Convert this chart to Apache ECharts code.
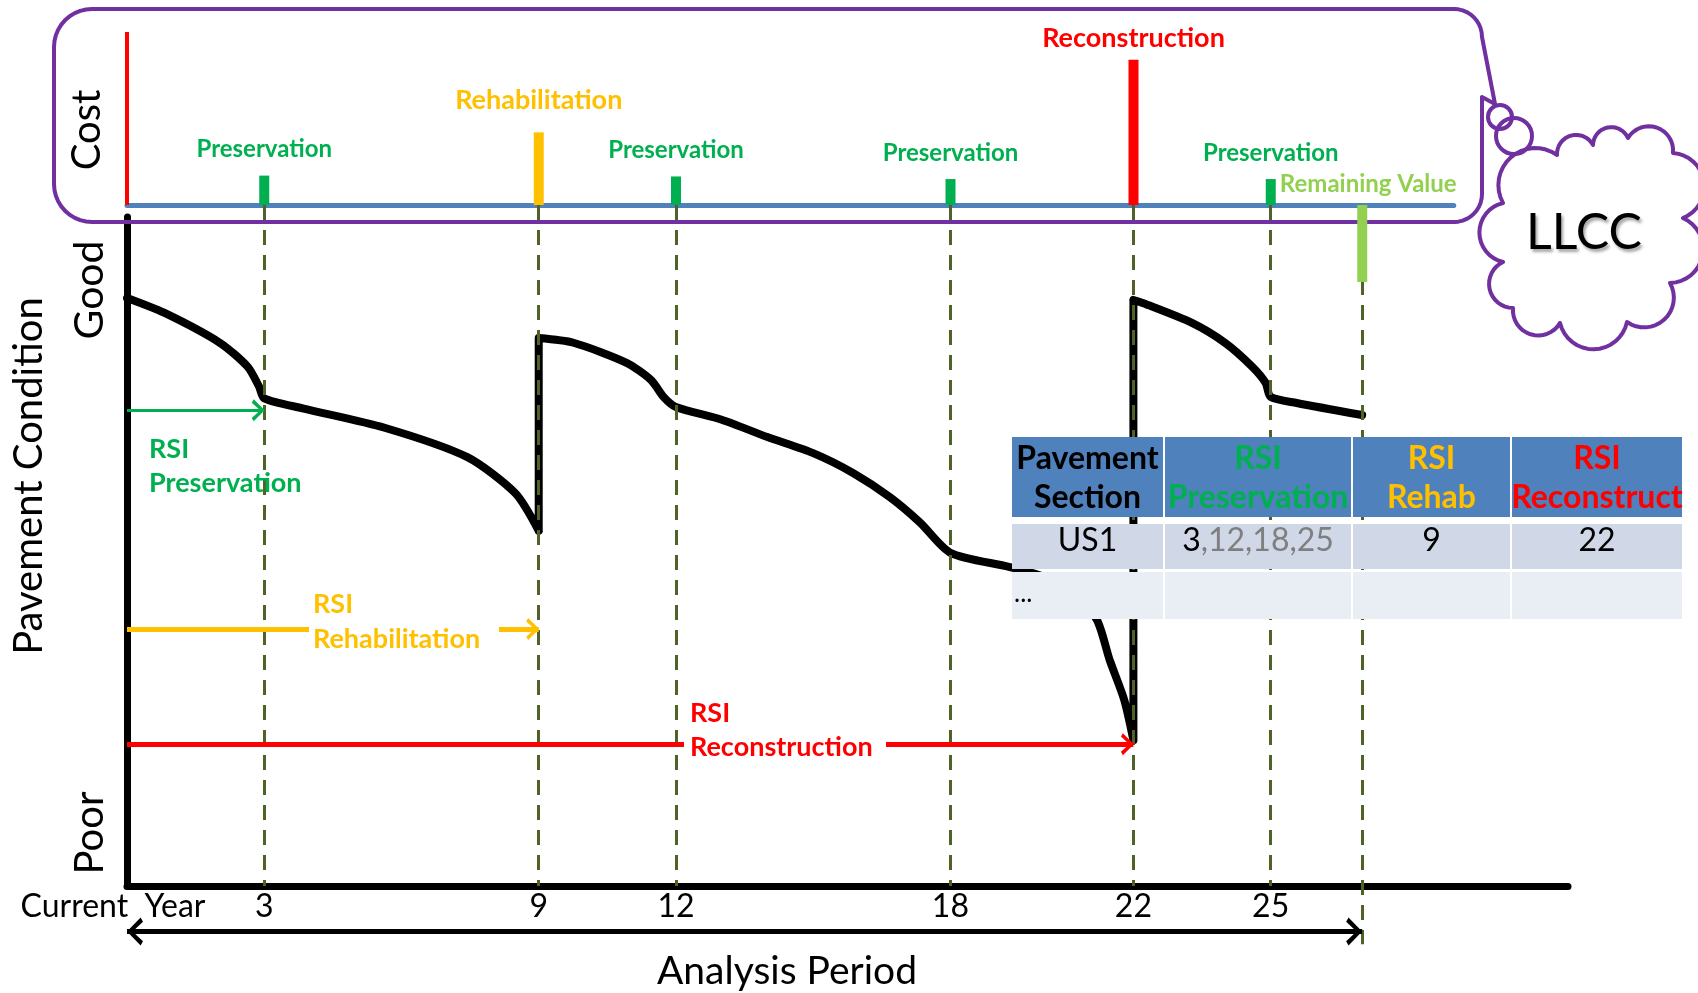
<!DOCTYPE html>
<html>
<head>
<meta charset="utf-8">
<title>Pavement life-cycle cost timeline</title>
<script src="https://cdn.jsdelivr.net/npm/echarts@6/dist/echarts.min.js"></script>
<style>
  html, body { margin: 0; padding: 0; background: #ffffff; }
  #chart { width: 1698px; height: 993px; }
</style>
</head>
<body>
<div id="chart"></div>
<script>
// ---- Treatments over the analysis period: year, relative cost, type ----
const costYears  = [3, 9, 12, 18, 22, 25, 27];
const costValues = [17, 42, 16.5, 15, 84, 15, -44.5];
const costKinds  = ['Preservation', 'Rehabilitation', 'Preservation', 'Preservation',
                    'Reconstruction', 'Preservation', 'Remaining Value'];

// ---- Pavement condition (condition index 0 = poor .. 100 = good), one array pair per life cycle ----
// cycle 1: current year until rehabilitation
const cycle1Years  = [0, 0.81, 2.03, 2.64, 2.89, 3, 3.84, 5.63, 7.44, 8.49, 9];
const cycle1Values = [87.9, 85.7, 81.2, 77.6, 74.6, 72.9, 71.4, 68.5, 64.1, 58.7, 53.1];
// cycle 2: rehabilitation until reconstruction
const cycle2Years  = [9, 9.76, 10.92, 11.46, 11.73, 12, 13, 14, 15, 15.88, 16.68, 17.34, 18,
                      19.28, 20.0, 20.7, 21.2, 21.48, 21.8, 22];
const cycle2Values = [81.9, 81.2, 78.2, 75.6, 73.1, 71.6, 69.7, 67.1, 64.7, 61.7, 58.1, 54.3, 49.8,
                      47.7, 46.3, 43.5, 39.8, 33.8, 27.8, 21.8];
// cycle 3: reconstruction until the end of the analysis period
const cycle3Years  = [22, 22.22, 23.27, 24, 24.6, 24.89, 25, 25.57, 27];
const cycle3Values = [87.6, 87.1, 84.2, 81.2, 77.6, 75.2, 73.1, 72.2, 70.4];

// ---- Remaining service interval spans (from current year) ----
const rsiNames    = ['RSI\nPreservation', 'RSI\nRehabilitation', 'RSI\nReconstruction'];
const rsiEndYears = [3, 9, 22];
const rsiLevels   = [71.1, 38.4, 21.2];

// ---- Analysis period ----
const analysisPeriod = [0, 27];
const analysisLevel  = -6.8;

// ---- Year axis labels ----
const tickYears  = [0, 3, 9, 12, 18, 22, 25];
const tickLabels = ['Current  Year', '3', '9', '12', '18', '22', '25'];

// ---- Summary table ----
const tableHeader = [['Pavement', 'Section'], ['RSI', 'Preservation'], ['RSI', 'Rehab'], ['RSI', 'Reconstruct']];
const tableRows   = [['US1', '3,12,18,25', '9', '22'], ['...', '', '', '']];

// ---------------------------------------------------------------------------
const FONT = 'Lato, "Liberation Sans", sans-serif';
const PURPLE = '#7030A0';
const kindColor = {
  'Preservation': '#00B050',
  'Rehabilitation': '#FFC000',
  'Reconstruction': '#FF0000',
  'Remaining Value': '#92D050'
};
const kindLabel = {
  'Preservation':   { fontSize: 24, distance: 14, offset: [0, 0] },
  'Rehabilitation': { fontSize: 27, distance: 19, offset: [0, 0] },
  'Reconstruction': { fontSize: 27, distance: 8,  offset: [0, 0] },
  'Remaining Value':{ fontSize: 24, distance: 9,  offset: [6, 0] }
};
const rsiColors = ['#00B050', '#FFC000', '#FF0000'];
const rsiWidths = [3, 5, 5];
const CHEVRON = 'path://M5,0 L10,8.5 L8.5,10 L5,3.5 L1.5,10 L0,8.5 Z';

const costData = costYears.map((y, i) => {
  const k = costKinds[i];
  const l = kindLabel[k];
  return {
    value: [y, costValues[i]],
    name: k,
    itemStyle: { color: kindColor[k] },
    label: {
      show: true, position: 'top', formatter: k,
      color: kindColor[k], fontSize: l.fontSize, fontWeight: 'bold', fontFamily: FONT,
      distance: l.distance, offset: l.offset
    }
  };
});

// condition line: smooth wear curves, joined by straight vertical jumps at each major treatment
const pairs = (xs, ys) => xs.map((x, i) => [x, ys[i]]);
const cycles = [pairs(cycle1Years, cycle1Values), pairs(cycle2Years, cycle2Values), pairs(cycle3Years, cycle3Values)];
const BREAK = [null, null];
let conditionData = [];
cycles.forEach((cyc, i) => {
  if (i > 0) {
    const prevEnd = cycles[i - 1][cycles[i - 1].length - 1];
    conditionData.push(BREAK, prevEnd, cyc[0], BREAK);
  }
  conditionData = conditionData.concat(cyc);
});

// dashed guides from each treatment down to the year axis
const guideLines = costYears.map(y => [
  { coord: [y, 101.8] },
  { coord: [y, y === analysisPeriod[1] ? -8.7 : 0] }
]);

// RSI arrows
const rsiArrows = rsiEndYears.map((ye, i) => {
  const ls = { color: rsiColors[i], width: rsiWidths[i], type: 'solid' };
  return [
    { coord: [0, rsiLevels[i]], symbol: 'none', lineStyle: ls },
    { coord: [ye, rsiLevels[i]], symbol: CHEVRON, symbolSize: [22, 13], symbolOffset: [0, 6], lineStyle: ls }
  ];
});

// analysis period double arrow
const apStyle = { color: '#000', width: 5, type: 'solid' };
const analysisArrow = [
  { coord: [analysisPeriod[0], analysisLevel], symbol: CHEVRON, symbolSize: [28, 16], symbolOffset: [0, 8], lineStyle: apStyle },
  { coord: [analysisPeriod[1], analysisLevel], symbol: CHEVRON, symbolSize: [28, 16], symbolOffset: [0, 8], lineStyle: apStyle }
];

// ---- outline helpers (sampled into point lists) ----
function arcPoints(a, b, bulge, steps) {
  // circular arc from a to b bulging to the left of travel (outward for clockwise loops)
  const dx = b[0] - a[0], dy = b[1] - a[1];
  const c = Math.hypot(dx, dy);
  const h = bulge * c;
  const r = (c * c / 4 + h * h) / (2 * h);
  const nx = dy / c, ny = -dx / c;
  const mx = (a[0] + b[0]) / 2, my = (a[1] + b[1]) / 2;
  const cx = mx - nx * (r - h), cy = my - ny * (r - h);
  const ta = Math.atan2(a[1] - cy, a[0] - cx);
  const tb = Math.atan2(b[1] - cy, b[0] - cx);
  let d = tb - ta;
  while (d > Math.PI) d -= 2 * Math.PI;
  while (d <= -Math.PI) d += 2 * Math.PI;
  const out = [];
  for (let i = 0; i <= steps; i++) {
    const t = ta + d * i / steps;
    out.push([cx + r * Math.cos(t), cy + r * Math.sin(t)]);
  }
  return out;
}
function cornerPoints(cx, cy, r, t0, t1, steps) {
  const out = [];
  for (let i = 0; i <= steps; i++) {
    const t = t0 + (t1 - t0) * i / steps;
    out.push([cx + r * Math.cos(t), cy + r * Math.sin(t)]);
  }
  return out;
}

const cloudPts = [[1503, 203], [1557, 155], [1593, 145], [1628, 138], [1673, 153], [1683, 218],
                  [1670, 283], [1627, 322], [1560, 323], [1513, 308], [1503, 262]];
let cloudOutline = [];
cloudPts.forEach((p, i) => {
  const seg = arcPoints(p, cloudPts[(i + 1) % cloudPts.length], 0.4, 16);
  cloudOutline = cloudOutline.concat(seg.slice(0, -1));
});

// rounded callout box with a tail leading to the cloud
const L = 54, T = 9, R = 1482, B = 222, rl = 38, rr = 28;
const H = Math.PI;
let callout = [];
callout = callout.concat(cornerPoints(L + rl, T + rl, rl, H, 1.5 * H, 10));          // top-left
callout = callout.concat(cornerPoints(R - rr, T + rr, rr, 1.5 * H, 2 * H, 10));      // top-right
callout.push([1495, 104], [1482, 97]);                                                 // tail
callout = callout.concat(cornerPoints(R - rr, B - rr, rr, 0, 0.5 * H, 10));          // bottom-right
callout = callout.concat(cornerPoints(L + rl, B - rl, rl, 0.5 * H, H, 10));          // bottom-left

const graphics = [
  { type: 'polygon', z: 1, silent: true, shape: { points: callout },
    style: { fill: 'none', stroke: PURPLE, lineWidth: 4, lineJoin: 'round' } },
  { type: 'polygon', z: 20, silent: true, shape: { points: cloudOutline },
    style: { fill: '#fff', stroke: PURPLE, lineWidth: 4, lineJoin: 'round' } },
  { type: 'circle', z: 21, silent: true, shape: { cx: 1500, cy: 117, r: 12 },
    style: { fill: 'none', stroke: PURPLE, lineWidth: 4 } },
  { type: 'circle', z: 21, silent: true, shape: { cx: 1514, cy: 136, r: 18 },
    style: { fill: 'none', stroke: PURPLE, lineWidth: 4 } },
  { type: 'text', z: 22, silent: true, x: 1584, y: 233,
    style: { text: 'LLCC', align: 'center', verticalAlign: 'middle', fontSize: 50, fontFamily: FONT,
             fill: '#000', textShadowColor: 'rgba(0,0,0,0.35)', textShadowBlur: 3,
             textShadowOffsetX: 2, textShadowOffsetY: 3 } },

  // axis captions
  { type: 'text', z: 10, silent: true, x: 87, y: 130, rotation: Math.PI / 2,
    style: { text: 'Cost', align: 'center', verticalAlign: 'middle', fontSize: 40, fontFamily: FONT, fill: '#000' } },
  { type: 'text', z: 10, silent: true, x: 90, y: 290, rotation: Math.PI / 2,
    style: { text: 'Good', align: 'center', verticalAlign: 'middle', fontSize: 41, fontFamily: FONT, fill: '#000' } },
  { type: 'text', z: 10, silent: true, x: 90, y: 833, rotation: Math.PI / 2,
    style: { text: 'Poor', align: 'center', verticalAlign: 'middle', fontSize: 40, fontFamily: FONT, fill: '#000' } },
  { type: 'text', z: 10, silent: true, x: 29, y: 476, rotation: Math.PI / 2,
    style: { text: 'Pavement Condition', align: 'center', verticalAlign: 'middle', fontSize: 40, fontFamily: FONT, fill: '#000' } },
  { type: 'text', z: 10, silent: true, x: 787, y: 971,
    style: { text: 'Analysis Period', align: 'center', verticalAlign: 'middle', fontSize: 39, fontFamily: FONT, fill: '#000' } },

  // RSI captions
  { type: 'text', z: 10, silent: true, x: 149, y: 432,
    style: { text: rsiNames[0], align: 'left', verticalAlign: 'top', fontSize: 27, fontWeight: 'bold',
             fontFamily: FONT, lineHeight: 34, fill: rsiColors[0] } },
  { type: 'rect', z: 9, silent: true, shape: { x: 309, y: 619, width: 190, height: 20 }, style: { fill: '#fff' } },
  { type: 'text', z: 10, silent: true, x: 313, y: 587,
    style: { text: rsiNames[1], align: 'left', verticalAlign: 'top', fontSize: 27, fontWeight: 'bold',
             fontFamily: FONT, lineHeight: 35, fill: rsiColors[1] } },
  { type: 'rect', z: 9, silent: true, shape: { x: 684, y: 734, width: 202, height: 20 }, style: { fill: '#fff' } },
  { type: 'text', z: 10, silent: true, x: 690, y: 696,
    style: { text: rsiNames[2], align: 'left', verticalAlign: 'top', fontSize: 27, fontWeight: 'bold',
             fontFamily: FONT, lineHeight: 34, fill: rsiColors[2] } }
];

// ---- summary table ----
const colEdges = [1011, 1164, 1352, 1511, 1683];
const rowBands = [[437, 517], [524, 569], [572, 619]];
const rowFills = ['#4F81BD', '#D0D8E8', '#E9EDF4'];
const headColors = ['#000000', '#00B050', '#FFC000', '#FF0000'];
rowBands.forEach((band, r) => {
  for (let c = 0; c < colEdges.length - 1; c++) {
    graphics.push({ type: 'rect', z: 30, silent: true,
      shape: { x: colEdges[c] + 1, y: band[0], width: colEdges[c + 1] - colEdges[c] - 2, height: band[1] - band[0] },
      style: { fill: rowFills[r] } });
  }
});
tableHeader.forEach((lines, c) => {
  const cx = (colEdges[c] + colEdges[c + 1]) / 2;
  lines.forEach((t, j) => {
    graphics.push({ type: 'text', z: 31, silent: true, x: cx, y: j === 0 ? 459 : 498,
      style: { text: t, align: 'center', verticalAlign: 'middle', fontSize: 32, fontWeight: 'bold',
               fontFamily: FONT, fill: headColors[c] } });
  });
});
tableRows.forEach((row, r) => {
  row.forEach((t, c) => {
    if (!t) return;
    if (r === 0) {
      const cx = (colEdges[c] + colEdges[c + 1]) / 2;
      const style = { text: t, align: 'center', verticalAlign: 'middle', fontSize: 32,
                      fontFamily: FONT, fill: '#000' };
      if (c === 1) {
        const parts = t.split(',');
        style.text = '{a|' + parts[0] + '}{b|,' + parts.slice(1).join(',') + '}';
        style.rich = {
          a: { fontSize: 32, fontFamily: FONT, fill: '#000000' },
          b: { fontSize: 32, fontFamily: FONT, fill: '#7F7F7F' }
        };
      }
      graphics.push({ type: 'text', z: 31, silent: true, x: cx, y: 541, style: style });
    } else {
      graphics.push({ type: 'text', z: 31, silent: true, x: colEdges[0] + 3, y: 594,
        style: { text: t, align: 'left', verticalAlign: 'middle', fontSize: 26, fontFamily: FONT, fill: '#000' } });
    }
  });
});

// ---------------------------------------------------------------------------
// condition scale: 6.69 px per index point, 0 on the year axis, 100 at the top of the y axis
const hiddenAxis = { show: false };
const chart = echarts.init(document.getElementById('chart'), null, { renderer: 'canvas' });
chart.setOption({
  animation: false,
  backgroundColor: '#ffffff',
  grid: [
    { left: 127, top: 217, width: 1441, height: 669, outerBoundsMode: 'none' },      // visible condition axes
    { left: 127, top: 32, width: 1326.75, height: 259.5, outerBoundsMode: 'none' },  // cost
    { left: 127, top: 203.62, width: 1441, height: 749.28, outerBoundsMode: 'none' } // condition data (-10..102)
  ],
  xAxis: [
    {
      type: 'value', gridIndex: 0, min: 0, max: 31.5, interval: 1,
      axisLine: { show: true, onZero: false, lineStyle: { color: '#000', width: 7 } },
      axisTick: { show: false }, splitLine: { show: false },
      axisLabel: {
        show: true, margin: 5, color: '#000', fontSize: 32, fontFamily: FONT,
        showMinLabel: true, showMaxLabel: true, hideOverlap: false,
        formatter: v => {
          const i = tickYears.indexOf(v);
          if (i < 0) return '';
          return i === 0 ? '{cy|' + tickLabels[0] + '}' : tickLabels[i];
        },
        rich: { cy: { fontSize: 32, fontFamily: FONT, color: '#000', padding: [0, 28, 0, 0] } }
      }
    },
    {
      type: 'value', gridIndex: 1, min: 0, max: 29,
      axisLine: { show: true, onZero: true, lineStyle: { color: '#4F81BD', width: 5 } },
      axisTick: { show: false }, axisLabel: { show: false }, splitLine: { show: false }
    },
    { type: 'value', gridIndex: 2, min: 0, max: 31.5, ...hiddenAxis }
  ],
  yAxis: [
    {
      type: 'value', gridIndex: 0, min: 0, max: 100,
      axisLine: { show: true, lineStyle: { color: '#000', width: 7 } },
      axisTick: { show: false }, axisLabel: { show: false }, splitLine: { show: false }
    },
    {
      type: 'value', gridIndex: 1, min: -50, max: 100,
      axisLine: { show: false }, axisTick: { show: false }, axisLabel: { show: false }, splitLine: { show: false }
    },
    { type: 'value', gridIndex: 2, min: -10, max: 102, ...hiddenAxis }
  ],
  series: [
    {
      name: 'Pavement condition', type: 'line', xAxisIndex: 2, yAxisIndex: 2,
      data: conditionData, symbol: 'none', showSymbol: false, clip: false, z: 3, silent: true,
      smooth: 0.25, connectNulls: false,
      lineStyle: { color: '#000', width: 8, join: 'round', cap: 'round' },
      markLine: {
        silent: true, z: 5, symbol: 'none', label: { show: false },
        lineStyle: { color: '#4F6228', width: 3, type: [15, 10] },
        data: guideLines.concat(rsiArrows, [analysisArrow])
      }
    },
    {
      name: 'Cost', type: 'bar', xAxisIndex: 1, yAxisIndex: 1, z: 6,
      data: costData, barWidth: 10, clip: false, silent: true,
      markLine: {
        silent: true, symbol: 'none', label: { show: false },
        lineStyle: { color: '#FF0000', width: 4, type: 'solid' },
        data: [[{ coord: [0, 0] }, { coord: [0, 100] }]]
      }
    }
  ],
  graphic: { elements: graphics }
});
</script>
</body>
</html>
